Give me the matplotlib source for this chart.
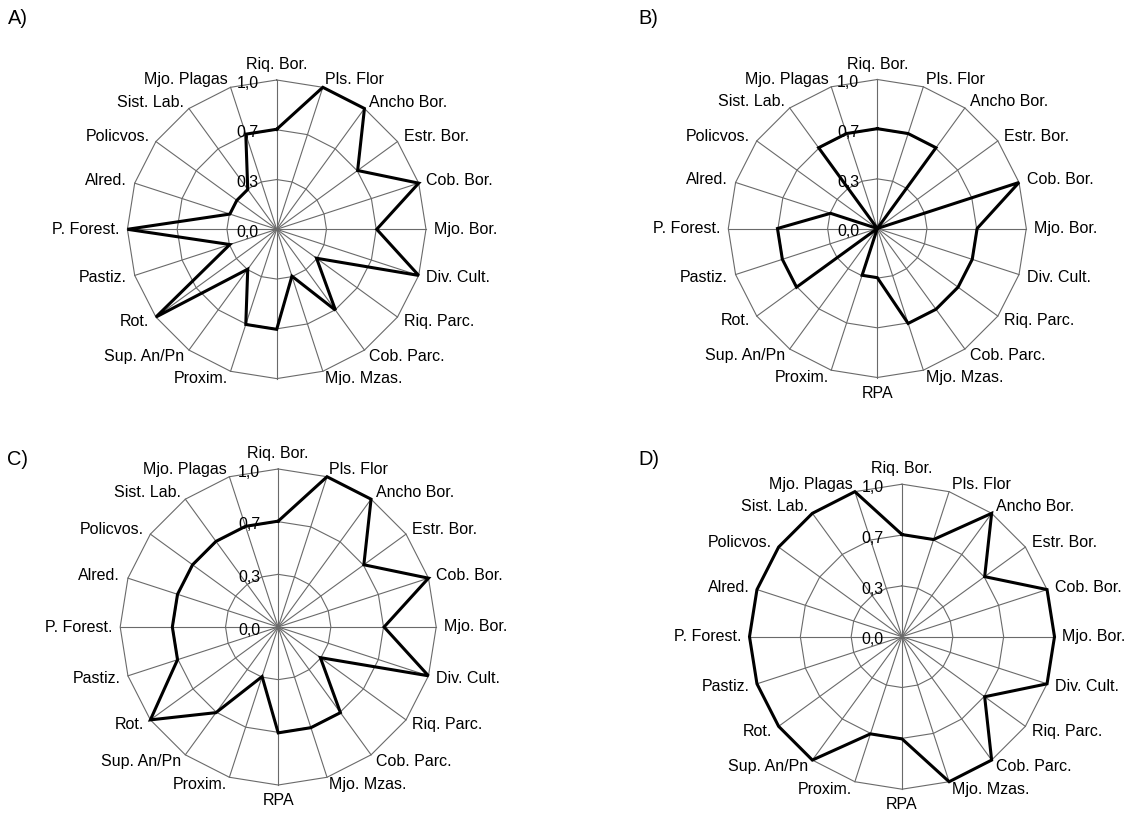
import numpy as np
import matplotlib
matplotlib.use("Agg")
import matplotlib.pyplot as plt
from matplotlib.transforms import offset_copy

plt.rcParams['font.family'] = ['Liberation Sans', 'DejaVu Sans']

categories = ["Riq. Bor.", "Pls. Flor", "Ancho Bor.", "Estr. Bor.", "Cob. Bor.",
              "Mjo. Bor.", "Div. Cult.", "Riq. Parc.", "Cob. Parc.", "Mjo. Mzas.",
              "RPA", "Proxim.", "Sup. An/Pn", "Rot.", "Pastiz.", "P. Forest.",
              "Alred.", "Policvos.", "Sist. Lab.", "Mjo. Plagas"]

values_A = [0.67, 1.0, 1.0, 0.67, 1.0, 0.67, 1.0, 0.33, 0.67, 0.33,
            0.67, 0.67, 0.33, 1.0, 0.33, 1.0, 0.33, 0.33, 0.33, 0.67]
values_B = [0.67, 0.67, 0.67, 0.0, 1.0, 0.67, 0.67, 0.67, 0.67, 0.67,
            0.33, 0.33, 0.0, 0.67, 0.67, 0.67, 0.33, 0.0, 0.67, 0.67]
values_C = [0.67, 1.0, 1.0, 0.67, 1.0, 0.67, 1.0, 0.33, 0.67, 0.67,
            0.67, 0.33, 0.67, 1.0, 0.67, 0.67, 0.67, 0.67, 0.67, 0.67]
values_D = [0.67, 0.67, 1.0, 0.67, 1.0, 1.0, 1.0, 0.67, 1.0, 1.0,
            0.67, 0.67, 1.0, 1.0, 1.0, 1.0, 1.0, 1.0, 1.0, 1.0]

tick_values = [0.0, 1/3, 2/3, 1.0]
tick_labels = ["0,0", "0,3", "0,7", "1,0"]
panel_letters = ["A)", "B)", "C)", "D)"]

W, H, DPI = 1129, 814, 100
fig = plt.figure(figsize=(W / DPI, H / DPI), dpi=DPI)
fig.patch.set_facecolor('white')

# layout (pixels): center x, center y, radius, box (left, top, right, bottom)
panels = [
    dict(data=values_A, cx=276.7, cy=229.3, R=149.3, box=(0, 36, 560, 384.5), letter=(8, 9)),
    dict(data=values_B, cx=877.3, cy=228.5, R=149.0, box=(560, 36, 1129, 408), letter=(638, 9)),
    dict(data=values_C, cx=278.2, cy=627.0, R=158.0, box=(0, 420, 560, 814), letter=(7, 450)),
    dict(data=values_D, cx=902.0, cy=636.7, R=152.5, box=(560, 420, 1129, 814), letter=(638, 450)),
]

N = len(categories)
theta = 2 * np.pi * np.arange(N) / N
grid_color = '#6a6a6a'
fs = 11.5
pt_per_px = 72.0 / DPI

for p, letter in zip(panels, panel_letters):
    l, t, r, b = p['box']
    cx, cy, R = p['cx'], p['cy'], p['R']
    ax = fig.add_axes([l / W, 1 - b / H, (r - l) / W, (b - t) / H])
    ax.set_xlim((l - cx) / R, (r - cx) / R)
    ax.set_ylim((cy - b) / R, (cy - t) / R)
    ax.axis('off')

    # polygon grid rings
    closed = np.append(theta, theta[0])
    for lev in tick_values[1:]:
        ax.plot(lev * np.sin(closed), lev * np.cos(closed), color=grid_color, lw=0.8, zorder=1)
    # spokes
    for th in theta:
        ax.plot([0, np.sin(th)], [0, np.cos(th)], color=grid_color, lw=0.8, zorder=1)

    # data series
    vals = np.array(p['data'] + p['data'][:1])
    ax.plot(vals * np.sin(closed), vals * np.cos(closed), color='black', lw=2.2,
            solid_joinstyle='miter', zorder=3)

    # category labels
    d = 8 * pt_per_px
    for th, name in zip(theta, categories):
        s, c = np.sin(th), np.cos(th)
        tr = offset_copy(ax.transData, fig=fig, x=d * s, y=d * c, units='points')
        if s > 0.01:
            ha = 'left'
        elif s < -0.01:
            ha = 'right'
        else:
            ha = 'center'
        if abs(s) < 0.01:
            va = 'bottom' if c > 0 else 'top'
        else:
            va = 'center'
        ax.text(s, c, name, transform=tr, ha=ha, va=va, fontsize=fs,
                clip_on=True, zorder=4)

    # value axis labels
    trv = offset_copy(ax.transData, fig=fig, x=-18 * pt_per_px, y=-3.2 * pt_per_px, units='points')
    for v, lab in zip(tick_values, tick_labels):
        ax.text(0, v, lab, transform=trv, ha='right', va='center', fontsize=fs,
                clip_on=True, zorder=4)

    fig.text(p['letter'][0] / W, 1 - p['letter'][1] / H, letter, ha='left', va='top',
             fontsize=14.4)

fig.savefig('out.png', dpi=DPI, facecolor='white')
